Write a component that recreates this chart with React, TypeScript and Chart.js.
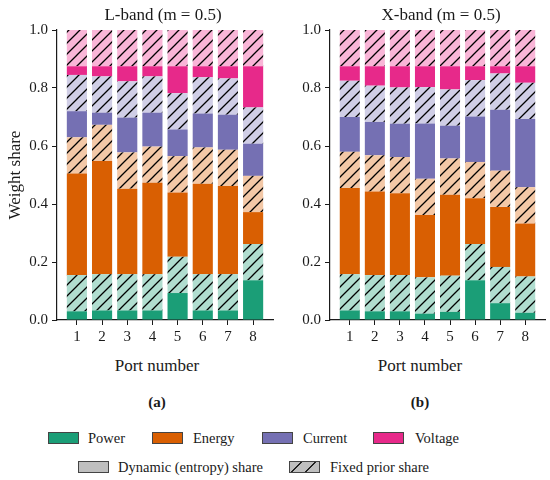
import { useEffect, useRef } from "react";
import Chart from "chart.js/auto";

const ports = [1, 2, 3, 4, 5, 6, 7, 8];

// L-band dynamic (entropy) shares
const lPowerDyn = [0.03, 0.033, 0.033, 0.033, 0.093, 0.033, 0.033, 0.137];
const lEnergyDyn = [0.35, 0.39, 0.295, 0.315, 0.222, 0.312, 0.304, 0.11];
const lCurrentDyn = [0.09, 0.042, 0.12, 0.117, 0.092, 0.117, 0.121, 0.111];
const lVoltageDyn = [0.03, 0.035, 0.052, 0.035, 0.093, 0.038, 0.042, 0.142];

// X-band dynamic (entropy) shares
const xPowerDyn = [0.033, 0.03, 0.03, 0.022, 0.028, 0.137, 0.058, 0.025];
const xEnergyDyn = [0.297, 0.288, 0.282, 0.215, 0.279, 0.158, 0.207, 0.183];
const xCurrentDyn = [0.12, 0.115, 0.115, 0.191, 0.113, 0.157, 0.21, 0.235];
const xVoltageDyn = [0.05, 0.067, 0.073, 0.072, 0.08, 0.048, 0.025, 0.057];

// fixed prior share per quantity (same for every port)
const fixedPrior = [0.125, 0.125, 0.125, 0.125, 0.125, 0.125, 0.125, 0.125];

const yTicks = [0, 0.2, 0.4, 0.6, 0.8, 1.0];

const quantities = ["Power", "Energy", "Current", "Voltage"];
const darkColors = ["#1b9e77", "#d95f02", "#7570b3", "#e7298a"];
const lightColors = ["#b0ddcf", "#f3c8a7", "#d0cee6", "#f9b5d7"];

const FONT = "Liberation Serif";
const INK = "#1a1a1a";

function hatch(color: string) {
  const s = 11;
  const c = document.createElement("canvas");
  c.width = s;
  c.height = s;
  const g = c.getContext("2d")!;
  g.fillStyle = color;
  g.fillRect(0, 0, s, s);
  g.strokeStyle = "#000";
  g.lineWidth = 1.3;
  g.beginPath();
  g.moveTo(0, s);
  g.lineTo(s, 0);
  g.moveTo(-1, 1);
  g.lineTo(1, -1);
  g.moveTo(s - 1, s + 1);
  g.lineTo(s + 1, s - 1);
  g.stroke();
  return g.createPattern(c, "repeat")!;
}

interface BandProps {
  dyn: number[][];
  left: number;
  yWidth: number;
  padRight: number;
}

function BandChart({ dyn, left, yWidth, padRight }: BandProps) {
  const ref = useRef<HTMLCanvasElement>(null);

  useEffect(() => {
    if (!ref.current) return;
    const datasets: any[] = [];
    quantities.forEach((q, i) => {
      datasets.push({
        label: q + " dynamic",
        data: dyn[i].map((v, j) => ({ x: ports[j], y: v })),
        backgroundColor: darkColors[i],
        borderWidth: 0,
      });
      datasets.push({
        label: q + " fixed",
        data: fixedPrior.map((v, j) => ({ x: ports[j], y: v })),
        backgroundColor: hatch(lightColors[i]),
        borderWidth: 0,
      });
    });

    const tickFont = { family: FONT, size: 15 };
    const chart = new Chart(ref.current, {
      type: "bar",
      data: { datasets },
      options: {
        animation: false,
        responsive: true,
        maintainAspectRatio: false,
        font: { family: FONT },
        layout: { padding: { top: 30, right: padRight, left: 0, bottom: 0 } },
        datasets: { bar: { categoryPercentage: 1, barPercentage: 0.8 } },
        plugins: { legend: { display: false }, tooltip: { enabled: false } },
        scales: {
          x: {
            type: "linear",
            stacked: true,
            offset: false,
            min: 0.21,
            max: 8.79,
            afterBuildTicks: (s: any) => {
              s.ticks = ports.map((v) => ({ value: v }));
            },
            afterFit: (s: any) => {
              s.height = 25;
              s.paddingLeft = 0;
              s.paddingRight = 0;
            },
            ticks: { font: tickFont, color: INK, padding: 3, callback: (v: any) => String(v) },
            grid: { offset: false, drawOnChartArea: false, drawTicks: true, tickLength: 5, color: INK },
            border: { display: true, color: INK, width: 1.2 },
          },
          y: {
            stacked: true,
            min: 0,
            max: 1,
            afterBuildTicks: (s: any) => {
              s.ticks = yTicks.map((v) => ({ value: v }));
            },
            afterFit: (s: any) => {
              s.width = yWidth;
            },
            ticks: { font: tickFont, color: INK, padding: 4, callback: (v: any) => Number(v).toFixed(1) },
            grid: { drawOnChartArea: false, drawTicks: true, tickLength: 5, color: INK },
            border: { display: true, color: INK, width: 1.2 },
          },
        },
      },
    });
    return () => chart.destroy();
  }, []);

  return (
    <div style={{ position: "absolute", left, top: 0, width: 275, height: 345 }}>
      <canvas ref={ref} />
    </div>
  );
}

function Label({ text, cx, cy, size = 17, bold = false }: any) {
  return (
    <div
      style={{
        position: "absolute",
        left: cx - 150,
        top: cy - 12,
        width: 300,
        lineHeight: "24px",
        textAlign: "center",
        fontFamily: FONT,
        fontSize: size,
        fontWeight: bold ? "bold" : "normal",
        color: INK,
        whiteSpace: "nowrap",
      }}
    >
      {text}
    </div>
  );
}

function Swatch({ x, cy, fill, hatched = false }: any) {
  return (
    <div
      style={{
        position: "absolute",
        left: x,
        top: cy - 6,
        width: 29,
        height: 10,
        border: "1px solid #444",
        background: hatched
          ? `repeating-linear-gradient(-45deg, ${fill} 0px, ${fill} 9px, #222 9px, #222 10px)`
          : fill,
      }}
    />
  );
}

function LegendText({ text, x, cy }: any) {
  return (
    <div
      style={{
        position: "absolute",
        left: x,
        top: cy - 11,
        lineHeight: "22px",
        fontFamily: FONT,
        fontSize: 14.5,
        color: INK,
        whiteSpace: "nowrap",
      }}
    >
      {text}
    </div>
  );
}

const legendSwatchX = [48, 152, 262, 373];
const legendTextX = [88, 193, 303, 415];

export default function App() {
  return (
    <div style={{ position: "absolute", left: 0, top: 0, width: 550, height: 480, background: "#fff", overflow: "hidden" }}>
      <BandChart dyn={[lPowerDyn, lEnergyDyn, lCurrentDyn, lVoltageDyn]} left={0} yWidth={57} padRight={2} />
      <BandChart dyn={[xPowerDyn, xEnergyDyn, xCurrentDyn, xVoltageDyn]} left={275} yWidth={55} padRight={5} />

      <Label text="L-band (m = 0.5)" cx={163} cy={15} />
      <Label text="X-band (m = 0.5)" cx={441} cy={15} />
      <div
        style={{
          position: "absolute",
          left: 15 - 80,
          top: 175 - 12,
          width: 160,
          lineHeight: "24px",
          textAlign: "center",
          transform: "rotate(-90deg)",
          fontFamily: FONT,
          fontSize: 17,
          color: INK,
        }}
      >
        Weight share
      </div>
      <Label text="Port number" cx={157} cy={366} />
      <Label text="Port number" cx={420} cy={366} />
      <Label text="(a)" cx={157} cy={402} size={15} bold />
      <Label text="(b)" cx={420} cy={402} size={15} bold />

      {quantities.map((q, i) => (
        <div key={q}>
          <Swatch x={legendSwatchX[i]} cy={438} fill={darkColors[i]} />
          <LegendText text={q} x={legendTextX[i]} cy={438} />
        </div>
      ))}
      <Swatch x={78} cy={467} fill="#bfbfbf" />
      <LegendText text="Dynamic (entropy) share" x={118} cy={467} />
      <Swatch x={289} cy={467} fill="#bfbfbf" hatched />
      <LegendText text="Fixed prior share" x={330} cy={467} />
    </div>
  );
}
